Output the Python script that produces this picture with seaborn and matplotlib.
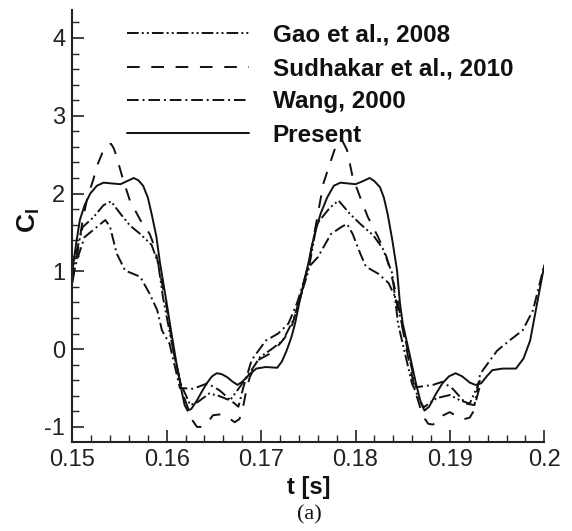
import numpy as np
import pandas as pd
import matplotlib
matplotlib.use("Agg")
import matplotlib.pyplot as plt
import seaborn as sns
from matplotlib.ticker import MultipleLocator, FuncFormatter

# ---------------- data ----------------
present_t = [0.1500, 0.1504, 0.1508, 0.1513, 0.1519, 0.1526, 0.1533, 0.1542, 0.1551, 0.1558,
             0.1565, 0.1570, 0.1575, 0.1580, 0.1584, 0.1589, 0.1593, 0.1600, 0.1604, 0.1611,
             0.1616, 0.1619, 0.1622, 0.1626, 0.1632, 0.1638, 0.1643, 0.1648, 0.1653, 0.1658,
             0.1664, 0.1670, 0.1675, 0.1680, 0.1688, 0.1695, 0.1705, 0.1717, 0.1722, 0.1727,
             0.1732, 0.1736, 0.1741, 0.1746, 0.1750, 0.1756, 0.1763, 0.1770, 0.1777, 0.1784,
             0.1792, 0.1800, 0.1808, 0.1815, 0.1820, 0.1826, 0.1830, 0.1834, 0.1839, 0.1844,
             0.1847, 0.1850, 0.1857, 0.1864, 0.1869, 0.1873, 0.1878, 0.1885, 0.1892, 0.1899,
             0.1906, 0.1913, 0.1921, 0.1927, 0.1933, 0.1939, 0.1945, 0.1956, 0.1970, 0.1978,
             0.1985, 0.1993, 0.2000]
present_c = [1.00, 1.35, 1.66, 1.85, 2.00, 2.10, 2.14, 2.13, 2.12, 2.16,
             2.20, 2.17, 2.10, 1.95, 1.74, 1.45, 1.10, 0.59, 0.28, -0.23,
             -0.55, -0.72, -0.79, -0.77, -0.66, -0.53, -0.43, -0.35, -0.31, -0.32,
             -0.36, -0.42, -0.46, -0.42, -0.32, -0.25, -0.23, -0.24, -0.16, -0.02,
             0.15, 0.33, 0.63, 0.90, 1.10, 1.45, 1.74, 1.95, 2.10, 2.14,
             2.13, 2.12, 2.16, 2.20, 2.16, 2.08, 1.95, 1.74, 1.40, 1.01,
             0.60, 0.33, -0.05, -0.44, -0.68, -0.79, -0.74, -0.58, -0.44, -0.35,
             -0.31, -0.35, -0.43, -0.46, -0.44, -0.35, -0.27, -0.25, -0.25, -0.12,
             0.11, 0.63, 1.08]

sudhakar_t = [0.1500, 0.1505, 0.1511, 0.1516, 0.1522, 0.1527, 0.1533, 0.1538, 0.1541, 0.1544,
              0.1547, 0.1554, 0.1561, 0.1572, 0.1582, 0.1587, 0.1591, 0.1600, 0.1607, 0.1617,
              0.1627, 0.1632, 0.1637, 0.1643, 0.1649, 0.1656, 0.1664, 0.1672, 0.1677, 0.1680,
              0.1684, 0.1688, 0.1697, 0.1709, 0.1720, 0.1731, 0.1741, 0.1750, 0.1757, 0.1766,
              0.1773, 0.1780, 0.1786, 0.1791, 0.1797, 0.1805, 0.1813, 0.1824, 0.1833, 0.1844,
              0.1852, 0.1863, 0.1871, 0.1877, 0.1882, 0.1888, 0.1893, 0.1900, 0.1908, 0.1915,
              0.1921, 0.1925, 0.1929, 0.1933]
sudhakar_c = [0.85, 1.20, 1.66, 1.95, 2.17, 2.38, 2.56, 2.63, 2.64, 2.58,
              2.47, 2.17, 1.91, 1.66, 1.48, 1.32, 1.10, 0.54, -0.02, -0.57,
              -0.91, -1.00, -1.00, -0.95, -0.85, -0.84, -0.87, -0.94, -0.90, -0.80,
              -0.55, -0.36, -0.14, -0.06, 0.07, 0.24, 0.63, 1.08, 1.53, 2.13,
              2.39, 2.64, 2.68, 2.56, 2.21, 1.95, 1.70, 1.44, 1.18, 0.67,
              0.12, -0.53, -0.85, -0.96, -0.97, -0.92, -0.85, -0.81, -0.87, -0.90,
              -0.88, -0.80, -0.60, -0.42]

gao_t = [0.1500, 0.1503, 0.1511, 0.1522, 0.1533, 0.1541, 0.1551, 0.1561, 0.1572, 0.1584,
         0.1591, 0.1596, 0.1605, 0.1615, 0.1625, 0.1633, 0.1645, 0.1655, 0.1667, 0.1685,
         0.1699, 0.1710, 0.1723, 0.1734, 0.1750, 0.1759, 0.1773, 0.1782, 0.1794, 0.1805,
         0.1819, 0.1829, 0.1839, 0.1845, 0.1860, 0.1872, 0.1886, 0.1900, 0.1911, 0.1921,
         0.1932]
gao_c = [0.90, 1.18, 1.57, 1.69, 1.85, 1.90, 1.74, 1.59, 1.48, 1.34,
         1.10, 0.67, 0.10, -0.45, -0.72, -0.68, -0.57, -0.60, -0.66, -0.36,
         -0.10, -0.01, 0.11, 0.37, 1.00, 1.61, 1.82, 1.91, 1.74, 1.61,
         1.46, 1.29, 0.97, 0.33, -0.45, -0.75, -0.63, -0.59, -0.66, -0.70,
         -0.40]

wang_t = [0.1500, 0.1505, 0.1513, 0.1522, 0.1535, 0.1540, 0.1547, 0.1556, 0.1572, 0.1582,
          0.1590, 0.1595, 0.1603, 0.1614, 0.1628, 0.1643, 0.1656, 0.1668, 0.1676, 0.1681,
          0.1690, 0.1705, 0.1718, 0.1729, 0.1738, 0.1750, 0.1760, 0.1774, 0.1785, 0.1791,
          0.1797, 0.1805, 0.1811, 0.1824, 0.1835, 0.1842, 0.1849, 0.1864, 0.1882, 0.1892,
          0.1903, 0.1917, 0.1926, 0.1932, 0.1950, 0.1963, 0.1977, 0.1988, 0.2000]
wang_c = [0.90, 1.15, 1.44, 1.53, 1.66, 1.57, 1.23, 1.01, 0.93, 0.71,
          0.50, 0.24, 0.07, -0.50, -0.51, -0.44, -0.53, -0.66, -0.74, -0.50,
          -0.14, 0.11, 0.20, 0.33, 0.59, 1.05, 1.18, 1.48, 1.57, 1.61,
          1.48, 1.23, 1.06, 0.97, 0.85, 0.67, 0.33, -0.49, -0.46, -0.42,
          -0.51, -0.70, -0.72, -0.32, -0.02, 0.11, 0.24, 0.50, 1.08]

labels = ["Gao et al., 2008", "Sudhakar et al., 2010", "Wang, 2000", "Present"]
x_ticks = [0.15, 0.16, 0.17, 0.18, 0.19, 0.20]
y_ticks = [-1, 0, 1, 2, 3, 4]

# ---------------- style ----------------
sns.set_style("ticks")
plt.rcParams["font.family"] = ["Liberation Sans", "DejaVu Sans"]
plt.rcParams["axes.unicode_minus"] = False
plt.rcParams["mathtext.fontset"] = "custom"
plt.rcParams["mathtext.bf"] = "Liberation Sans:bold"
plt.rcParams["mathtext.rm"] = "Liberation Sans"

fig = plt.figure(figsize=(5.72, 5.31), dpi=100)
ax = fig.add_axes([0.1264, 0.1682, 0.8252, 0.8130])

series = [
    (gao_t, gao_c, labels[0], (0, (6, 1.6, 1, 1.6, 1, 1.6))),
    (sudhakar_t, sudhakar_c, labels[1], (0, (6.5, 6))),
    (wang_t, wang_c, labels[2], (0, (6, 2, 1, 2))),
    (present_t, present_c, labels[3], "-"),
]
for t, c, lab, ls in series:
    df = pd.DataFrame({"t": t, "C": c})
    sns.lineplot(data=df, x="t", y="C", ax=ax, color="#111111", lw=1.4,
                 linestyle=ls, label=lab, estimator=None, sort=False)

ax.set_xlim(0.15, 0.2)
ax.set_ylim(-1.19, 4.36)
ax.set_xticks(x_ticks)
ax.set_yticks(y_ticks)
ax.xaxis.set_minor_locator(MultipleLocator(0.002))
ax.yaxis.set_minor_locator(MultipleLocator(0.2))
ax.xaxis.set_major_formatter(FuncFormatter(lambda v, p: f"{v:g}"))
ax.yaxis.set_major_formatter(FuncFormatter(lambda v, p: f"{v:g}"))

for s in ["top", "right"]:
    ax.spines[s].set_visible(False)
for s in ["left", "bottom"]:
    ax.spines[s].set_linewidth(1.5)
    ax.spines[s].set_color("#222222")

ax.tick_params(which="major", direction="in", length=8.5, width=1.2, colors="#222222",
               labelsize=17, pad=5)
ax.tick_params(which="minor", direction="in", length=5, width=1.0, colors="#222222")
ax.tick_params(axis="x", pad=5)

ax.set_xlabel("t [s]", fontsize=17, fontweight="bold", labelpad=4, color="#111111")
ax.set_ylabel("")
fig.text(0.050, 0.584, r"$\mathbf{C_l}$", rotation=90, fontsize=19,
         ha="center", va="center", color="#111111")
fig.text(0.541, 0.030, "(a)", family=["Liberation Serif", "DejaVu Serif"],
         fontsize=16, ha="center", va="center", color="#111111")

leg = ax.legend(loc="upper left", bbox_to_anchor=(0.222, 0.955),
                bbox_transform=fig.transFigure, frameon=False,
                handlelength=5.0, handletextpad=1.0, labelspacing=0.42,
                borderpad=0, borderaxespad=0,
                prop={"size": 17.5, "weight": "bold"})
for txt in leg.get_texts():
    txt.set_color("#111111")

fig.savefig("out.png", dpi=100)
